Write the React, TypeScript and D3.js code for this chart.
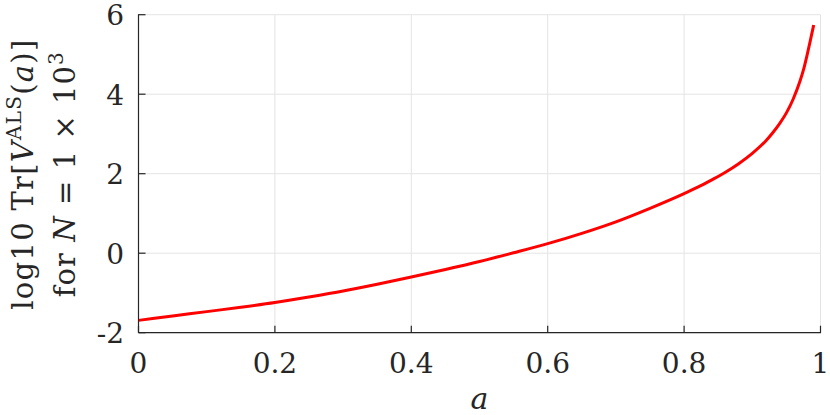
import React from "react";
import * as d3 from "d3";

// curve: a -> log10 Tr[V_ALS(a)] for N = 1e3
const aValues = [
  0, 0.05, 0.1, 0.15, 0.2, 0.25, 0.3, 0.35, 0.4, 0.45, 0.5, 0.55, 0.6, 0.65,
  0.7, 0.75, 0.8, 0.82, 0.84, 0.86, 0.88, 0.9, 0.92, 0.93, 0.94, 0.95, 0.96,
  0.97, 0.975, 0.98, 0.985, 0.99,
];
const logTrace = [
  -1.69, -1.58, -1.47, -1.36, -1.24, -1.1, -0.95, -0.78, -0.6, -0.41, -0.21,
  0.01, 0.24, 0.5, 0.79, 1.13, 1.5, 1.66, 1.84, 2.03, 2.25, 2.51, 2.83, 3.03,
  3.26, 3.53, 3.88, 4.33, 4.61, 4.96, 5.34, 5.74,
];
const xTicks = [0, 0.2, 0.4, 0.6, 0.8, 1];
const xTickLabels = ["0", "0.2", "0.4", "0.6", "0.8", "1"];
const yTicks = [-2, 0, 2, 4, 6];
const yTickLabels = ["-2", "0", "2", "4", "6"];

const W = 830;
const H = 415;
const margin = { left: 138.5, right: 9.5, top: 14.7, bottom: 82.3 };
const axisColor = "#262626";
const gridColor = "#e4e4e4";
const serif = "'DejaVu Serif', serif";

export default function App() {
  const x = d3
    .scaleLinear()
    .domain([0, 1])
    .range([margin.left, W - margin.right]);
  const y = d3
    .scaleLinear()
    .domain([-2, 6])
    .range([H - margin.bottom, margin.top]);

  const points = aValues.map((a, i) => [a, logTrace[i]] as [number, number]);
  const line = d3
    .line<[number, number]>()
    .x((d) => x(d[0]))
    .y((d) => y(d[1]))
    .curve(d3.curveMonotoneX);

  const x0 = x(0);
  const x1 = x(1);
  const yB = y(-2);
  const yT = y(6);
  const tickLen = 7;
  const midY = (yB + yT) / 2;

  return (
    <svg
      width={W}
      height={H}
      style={{ position: "absolute", left: 0, top: 0, background: "#fff" }}
    >
      {/* grid */}
      {xTicks.map((t) => (
        <line key={"gx" + t} x1={x(t)} x2={x(t)} y1={yB} y2={yT} stroke={gridColor} strokeWidth={1} />
      ))}
      {yTicks.map((t) => (
        <line key={"gy" + t} x1={x0} x2={x1} y1={y(t)} y2={y(t)} stroke={gridColor} strokeWidth={1} />
      ))}

      {/* curve */}
      <path d={line(points) || ""} fill="none" stroke="#ff0000" strokeWidth={3} />

      {/* axes with inward ticks */}
      <line x1={x0} x2={x1 + 0.5} y1={yB} y2={yB} stroke={axisColor} strokeWidth={1.2} />
      <line x1={x0} x2={x0} y1={yB} y2={yT - 0.5} stroke={axisColor} strokeWidth={1.2} />
      {xTicks.map((t) => (
        <line key={"tx" + t} x1={x(t)} x2={x(t)} y1={yB} y2={yB - tickLen} stroke={axisColor} strokeWidth={1.2} />
      ))}
      {yTicks.map((t) => (
        <line key={"ty" + t} x1={x0} x2={x0 + tickLen} y1={y(t)} y2={y(t)} stroke={axisColor} strokeWidth={1.2} />
      ))}

      {/* tick labels */}
      {xTicks.map((t, i) => (
        <text key={"lx" + t} x={x(t)} y={373} textAnchor="middle" fontFamily={serif} fontSize={28} fill={axisColor}>
          {xTickLabels[i]}
        </text>
      ))}
      {yTicks.map((t, i) => (
        <text key={"ly" + t} x={124} y={y(t) + 10.5} textAnchor="end" fontFamily={serif} fontSize={28} fill={axisColor}>
          {yTickLabels[i]}
        </text>
      ))}

      {/* x label */}
      <text x={(x0 + x1) / 2} y={409} textAnchor="middle" fontFamily={serif} fontSize={30} fontStyle="italic" fill={axisColor}>
        a
      </text>

      {/* y label, two lines */}
      <g transform={`translate(33, ${midY + 1}) rotate(-90)`} fontFamily={serif} fill={axisColor}>
        <text x={0} y={0} textAnchor="middle" fontSize={29} textLength={270} lengthAdjust="spacing">
          <tspan>log10 Tr[</tspan>
          <tspan fontStyle="italic">V</tspan>
          <tspan fontSize={20} dy={-12}>ALS</tspan>
          <tspan dy={12}>(</tspan>
          <tspan fontStyle="italic">a</tspan>
          <tspan>)]</tspan>
        </text>
        <text x={0} y={42} textAnchor="middle" fontSize={29} textLength={245} lengthAdjust="spacing">
          <tspan>for </tspan>
          <tspan fontStyle="italic">N</tspan>
          <tspan> = 1 × 10</tspan>
          <tspan fontSize={20} dy={-12}>3</tspan>
        </text>
      </g>
    </svg>
  );
}
